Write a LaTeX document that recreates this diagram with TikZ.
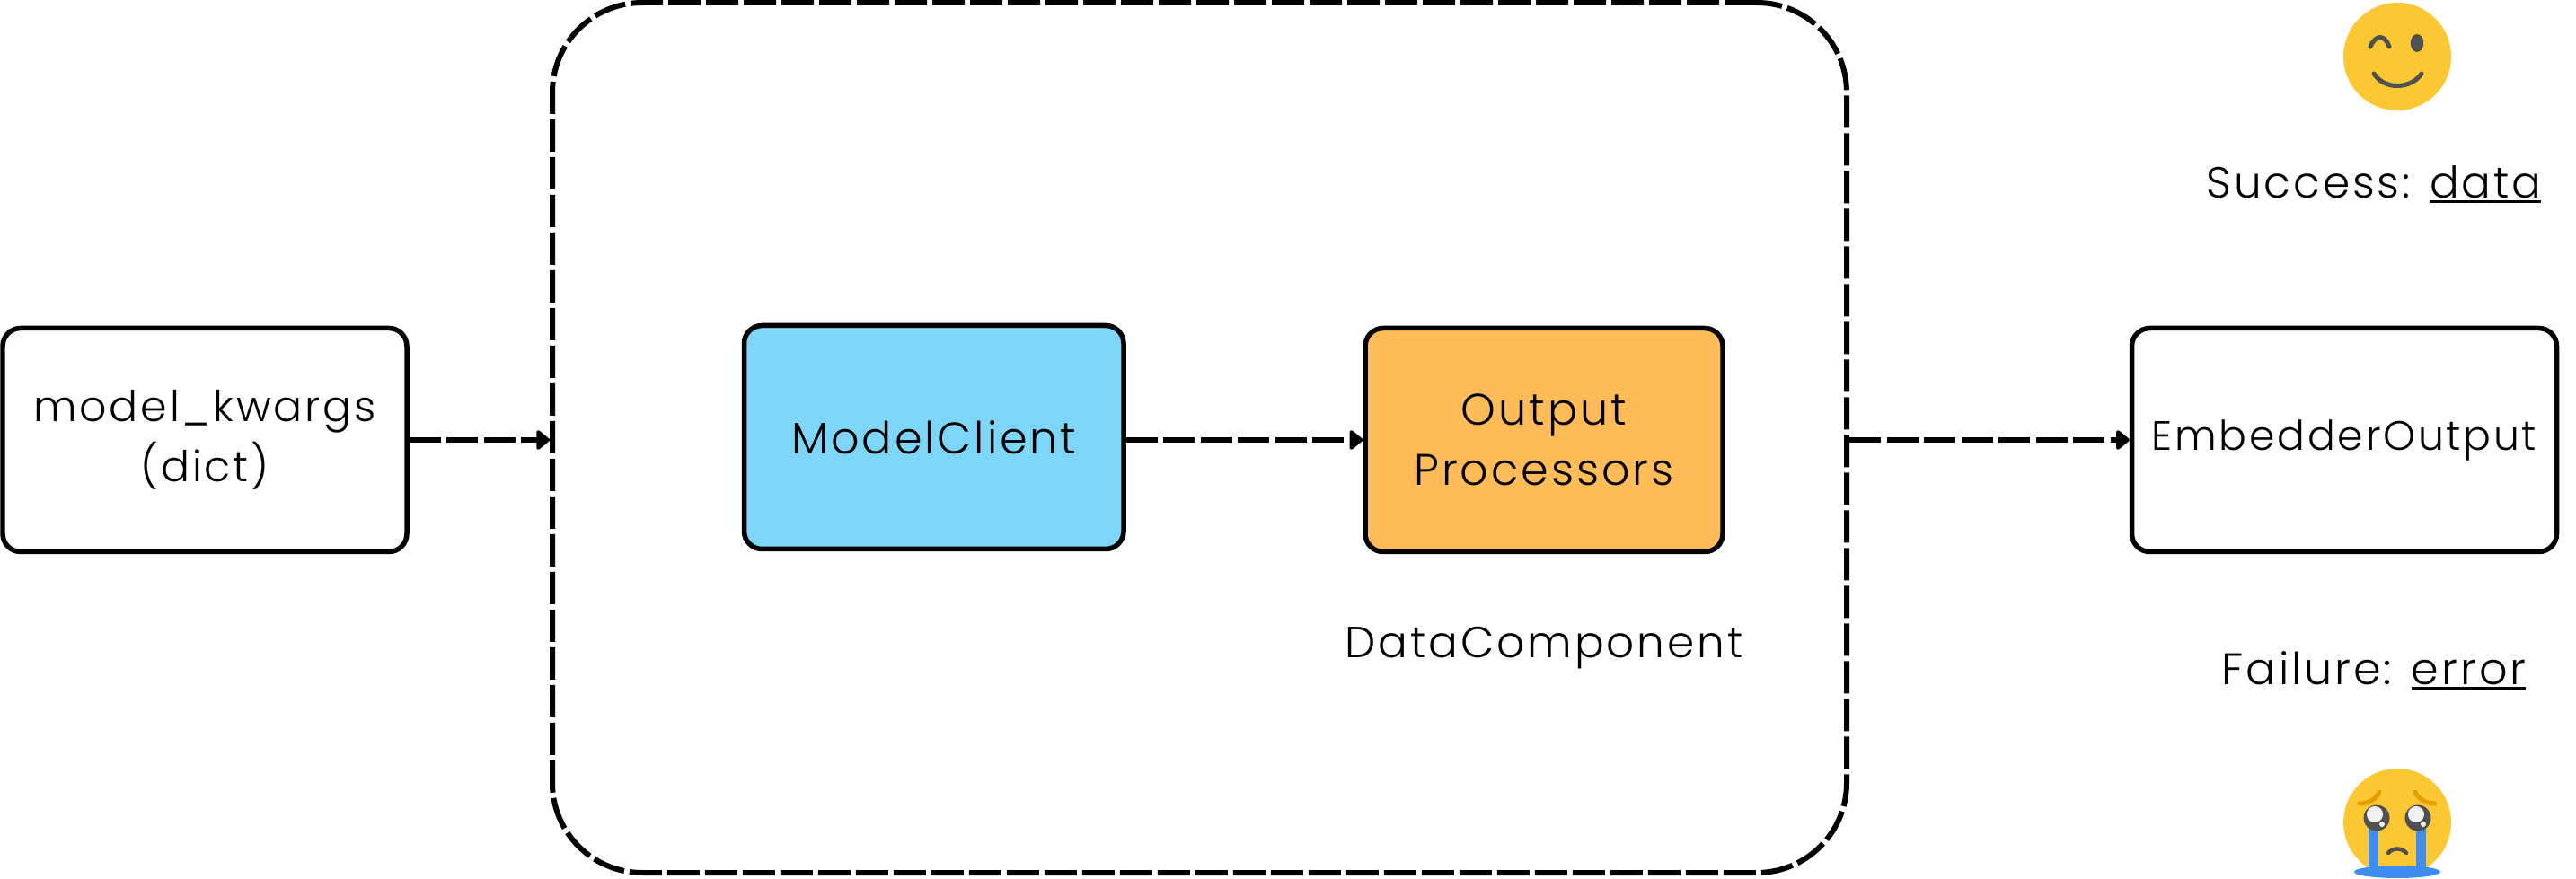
\documentclass[tikz,border=0pt]{standalone}
\usepackage{fontspec}
\setmainfont{Poppins Light}[LetterSpace=6]
\usetikzlibrary{positioning,arrows.meta}

\newcommand{\ulined}[1]{\setbox0\hbox{#1}\rlap{\rule[-.055cm]{\wd0}{.03cm}}\box0}

\definecolor{clientblue}{HTML}{7DD6F8}
\definecolor{procorange}{HTML}{FFBC58}
\definecolor{emojiyellow}{HTML}{FBC833}
\definecolor{emojidark}{HTML}{505050}
\definecolor{emojibrow}{HTML}{E5A000}
\definecolor{emojiblue}{HTML}{3F8EEF}

\begin{document}
\begin{tikzpicture}[
      node distance = 3mm,
      base/.style={rectangle, draw, line width=.055cm, rounded corners=.2cm, align=center, minimum height = 2.49cm, font=\fontsize{14}{19}\selectfont},
      client/.style={base,fill=clientblue},
      processors/.style={base,fill=procorange},
      label/.style={font=\fontsize{13.8}{19}\selectfont},
      flow/.style={line width=.06cm, dash pattern=on .35cm off .065cm, -{Triangle[round,length=.16cm,width=.25cm]}},
    ]
      \useasboundingbox (0,0) rectangle (28.68,9.78);

      % outer box
      \node[rectangle, draw, line width=.06cm, rounded corners=1cm, dash pattern=on .36cm off .06cm, minimum width = 14.41cm, minimum height = 9.69cm] (wrap) at (13.355,4.905) {};

      % main row
      \node[base, minimum width = 4.5cm, font=\fontsize{13.5}{19}\selectfont] (kwargs) at (2.28,4.88) {model\_kwargs\\(dict)};
      \node[client, right = 3.7cm of kwargs, yshift=.03cm, minimum width = 4.225cm] (mclient) {ModelClient};
      \node[processors, right = 2.635cm of mclient, yshift=-.03cm, minimum width = 3.98cm] (oproc) {Output\\Processors};
      \node[base, right = 4.5cm of oproc, minimum width = 4.73cm, font=\fontsize{13}{19}\selectfont] (eoutput) {EmbedderOutput};

      % labels
      \node[label, below = .69cm of oproc] (dcomp) {DataComponent};
      \node[label] (success) at (26.43,7.73) {Success: \ulined{data}};
      \node[label, font=\fontsize{14}{19}\selectfont] (failure) at (26.43,2.31) {Failure: \ulined{error}};

      \draw[flow] (kwargs.east) -- (kwargs.east -| wrap.west);
      \draw[flow] (oproc.west -| mclient.east) -- (oproc.west);
      \draw[flow] (eoutput.west -| wrap.east) -- (eoutput.west);

      % winking face
      \begin{scope}[shift={(26.69,9.15)}]
        \fill[emojiyellow] (0,0) circle (.6);
        \draw[emojidark, line width=.05cm, line cap=round] (-.3,.11) .. controls (-.24,.25) and (-.14,.25) .. (-.09,.11);
        \fill[emojidark] (.22,.15) ellipse (.073 and .1);
        \draw[emojidark, line width=.05cm, line cap=round] (-.26,-.19) .. controls (-.15,-.37) and (.15,-.37) .. (.27,-.19);
      \end{scope}

      % crying face
      \begin{scope}[shift={(26.69,.62)}]
        \fill[emojiyellow] (0,0) circle (.6);
        \draw[emojibrow, line width=.05cm, line cap=round] (-.42,.21) .. controls (-.3,.21) and (-.22,.28) .. (-.2,.34);
        \draw[emojibrow, line width=.05cm, line cap=round] (.42,.21) .. controls (.3,.21) and (.22,.28) .. (.2,.34);
        \fill[emojiblue] (-.32,-.55) rectangle (-.21,.0);
        \fill[emojiblue] (.21,-.55) rectangle (.32,.0);
        \fill[emojiblue] (0,-.55) ellipse (.48 and .07);
        \foreach \eyex in {-.23,.23} {
          \fill[emojidark] (\eyex,.05) circle (.145);
          \fill[black!6] (\eyex-.02,.09) circle (.09);
          \fill[black!6] (\eyex+.06,-.02) circle (.03);
        }
        \draw[emojidark, line width=.045cm, line cap=round] (-.1,-.34) .. controls (-.05,-.28) and (.05,-.28) .. (.1,-.34);
      \end{scope}
    \end{tikzpicture}
\end{document}
